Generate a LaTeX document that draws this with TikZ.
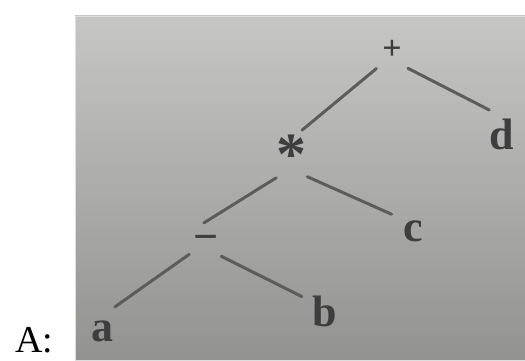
\documentclass[tikz,border=0pt]{standalone}
\usepackage{fontspec}
\setmainfont{Liberation Serif}
\newfontfamily\labelfont{Liberation Serif}
\usetikzlibrary{positioning}

\definecolor{phototop}{RGB}{198,198,196}
\definecolor{photobottom}{RGB}{146,146,144}
\definecolor{photoedge}{RGB}{222,222,222}
\definecolor{inkgray}{RGB}{62,62,62}
\definecolor{linegray}{RGB}{92,92,92}

\begin{document}
\begin{tikzpicture}[
    x=1pt, y=-1pt,
    term/.style={circle, inner sep=0pt, minimum size=54pt, text=inkgray, font=\bfseries\fontsize{44}{48}\selectfont},
    edge/.style={draw=linegray, line width=3pt, line cap=round}
]
    \useasboundingbox (0,0) rectangle (525,361);
    % Foto-Hintergrund
    \shade[top color=phototop, bottom color=photobottom] (75,16) rectangle (525,360);
    \draw[photoedge, line width=1pt] (75.5,16.5) rectangle (525,360);

    % Operatoren
    \node[term, minimum size=48pt, font=\bfseries\fontsize{34}{36}\selectfont] (plus) at (392,50) {+};
    \node[term, font=\bfseries\fontsize{60}{64}\selectfont] (times) at (291,155) {*};
    \node[term, minimum size=40pt] (minus) at (206,243) {−};

    % Operanden
    \node[term] (d) at (502,134) {d};
    \node[term] (c) at (413,231) {c};
    \node[term] (a) at (102,331) {a};
    \node[term] (b) at (325,311) {b};

    % Beschriftung
    \node[inner sep=0pt, font=\labelfont\fontsize{38}{40}\selectfont, text=black] (label) at (34,340) {A:};

    % Kanten
    \draw[edge] (plus.-130) -- (times.66);
    \draw[edge] (plus.-49) -- (d.118);
    \draw[edge] (times.-53) -- (c.142);
    \draw[edge] (times.-123) -- (minus.96);
    \draw[edge] (minus.-146) -- (a.62);
    \draw[edge] (minus.-41) -- (b.148);
\end{tikzpicture}
\end{document}
